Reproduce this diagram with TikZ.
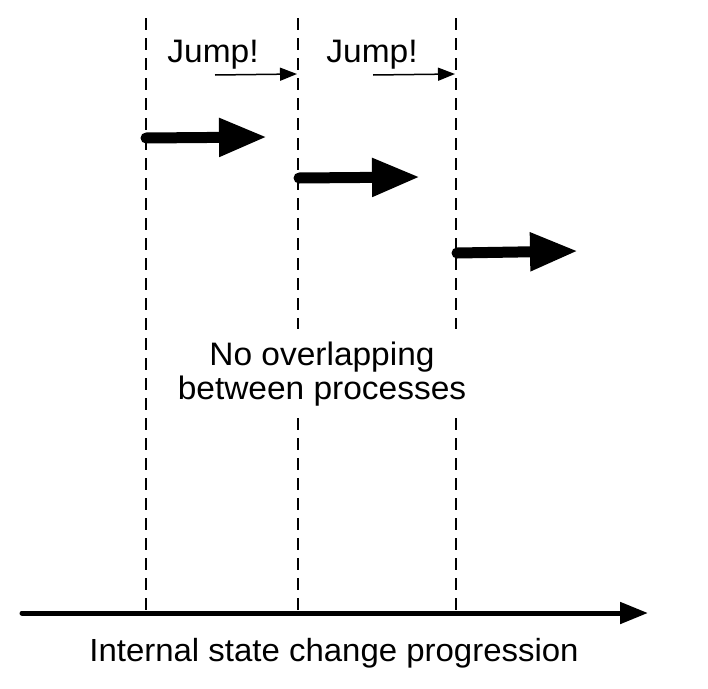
\documentclass[tikz,border=0pt]{standalone}
\usepackage{fontspec}
\setmainfont{Liberation Sans}
\usetikzlibrary{arrows.meta}

\tikzset{
  guide/.style={draw=black, line width=2pt, dash pattern=on 12pt off 8pt},
  bigarrow/.style={line width=11pt, line cap=round, -{Triangle[length=48pt,width=36pt]}},
  jumparrow/.style={line width=1.5pt, -{Triangle[length=17pt,width=13pt]}},
  axisarrow/.style={line width=5pt, line cap=round, -{Triangle[length=28pt,width=21pt]}},
  label/.style={inner sep=0pt, font=\fontsize{32.5}{34}\selectfont},
}

\begin{document}
\begin{tikzpicture}[x=1pt, y=-1pt]
  \useasboundingbox (0,0) rectangle (708,688);

  % process boundaries
  \coordinate (b1t) at (146,18);  \coordinate (b1b) at (146,610);
  \coordinate (b2t) at (298,18);  \coordinate (b2b) at (298,610);
  \coordinate (b3t) at (456,18);  \coordinate (b3b) at (456,610);
  \draw[guide] (b1t) -- (b1b);
  \draw[guide] (b2t) -- (b2b);
  \draw[guide] (b3t) -- (b3b);

  % jumps between boundaries
  \node[label, anchor=base] (jump1) at (213,62) {\scalebox{1.03}[1]{Jump!}};
  \node[label, anchor=base] (jump2) at (372,62) {\scalebox{1.03}[1]{Jump!}};
  \coordinate (j1s) at (215,75); \coordinate (j1e) at (297,74);
  \coordinate (j2s) at (373,75); \coordinate (j2e) at (455,74);
  \draw[jumparrow] (j1s) -- (j1e);
  \draw[jumparrow] (j2s) -- (j2e);

  % processes
  \coordinate (p1s) at (146,138); \coordinate (p1e) at (267,137);
  \coordinate (p2s) at (299,178); \coordinate (p2e) at (420,177);
  \coordinate (p3s) at (457,253); \coordinate (p3e) at (578,251);
  \draw[bigarrow] (p1s) -- (p1e);
  \draw[bigarrow] (p2s) -- (p2e);
  \draw[bigarrow] (p3s) -- (p3e);

  % note over the boundaries (anchored on the baseline of its last line)
  \node[label, fill=white, inner xsep=3pt, inner ysep=12pt, align=center, anchor=base]
    (note) at (322,399) {\scalebox{1.03}[1]{No overlapping}\\\scalebox{1.03}[1]{between processes}};

  % progression axis
  \coordinate (axs) at (22,613); \coordinate (axe) at (648,613);
  \draw[axisarrow] (axs) -- (axe);
  \node[inner sep=0pt, font=\fontsize{32}{36}\selectfont, anchor=base]
    (axislabel) at (334,661) {\scalebox{1.03}[1]{Internal state change progression}};
\end{tikzpicture}
\end{document}
